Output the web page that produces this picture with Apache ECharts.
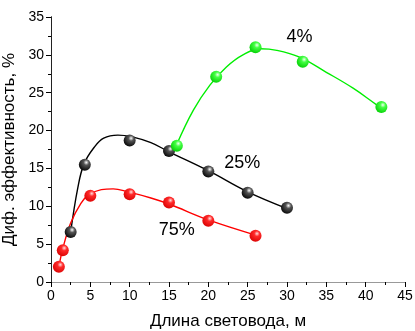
<!DOCTYPE html>
<html>
<head>
<meta charset="utf-8">
<script src="https://cdn.jsdelivr.net/npm/echarts@6/dist/echarts.min.js"></script>
<style>
  html, body { margin: 0; padding: 0; background: #fff; }
  #chart { width: 415px; height: 331px; }
</style>
</head>
<body>
<div id="chart"></div>
<script>
// Measured points, length of light guide (m) vs differential efficiency (%)
const pts4X  = [16, 21, 26, 32, 42];
const pts4Y  = [18.0, 27.1, 31.0, 29.1, 23.1];
const pts25X = [2.5, 4.3, 10, 15, 20, 25, 30];
const pts25Y = [6.6, 15.5, 18.7, 17.3, 14.6, 11.8, 9.8];
const pts75X = [1.0, 1.5, 5, 10, 15, 20, 26];
const pts75Y = [2.0, 4.2, 11.4, 11.6, 10.5, 8.1, 6.1];

// Fitted trend curves
const fit4X  = [16, 18.1, 20.2, 22.3, 24.4, 26.6, 28.7, 31.6, 35.0, 38.4, 41.4, 42];
const fit4Y  = [18.2, 22.7, 26.0, 28.4, 30.0, 30.8, 30.6, 29.7, 27.7, 25.6, 23.4, 23.0];
const fit25X = [2.5, 3.4, 4.2, 5.5, 6.7, 8.5, 10.2, 12.7, 15.0, 20, 25, 30];
const fit25Y = [6.6, 12.4, 15.6, 17.8, 19.0, 19.4, 19.2, 18.4, 17.2, 14.7, 11.9, 9.7];
const fit75X = [1.0, 1.5, 2.5, 3.8, 4.8, 6.4, 7.9, 9.8, 12.7, 15.0, 20, 26];
const fit75Y = [2.0, 4.4, 7.8, 10.4, 11.5, 12.2, 12.3, 11.9, 11.1, 10.3, 8.2, 6.2];

// Curve labels
const labelText = ['4%', '25%', '75%'];
const labelX = [31.6, 24.3, 16.0];
const labelY = [32.4, 15.7, 6.9];

const xTitle = 'Длина световода, м';
const yTitle = 'Диф. эффективность, %';

const font = 'Arial, "Liberation Sans", sans-serif';

function pairs(xs, ys) { return xs.map((x, i) => [x, ys[i]]); }

function ball(c0, c1, c2) {
  return {
    type: 'radial', x: 0.62, y: 0.32, r: 0.75,
    colorStops: [
      { offset: 0, color: c0 },
      { offset: 0.3, color: c1 },
      { offset: 1, color: c2 }
    ]
  };
}

function fitLine(xs, ys, color) {
  return {
    type: 'line', data: pairs(xs, ys), smooth: 0.4, symbol: 'none',
    lineStyle: { color: color, width: 1.4 }, z: 2, silent: true
  };
}
function dots(xs, ys, fill, z) {
  return {
    type: 'scatter', data: pairs(xs, ys), symbolSize: 12,
    itemStyle: { color: fill, opacity: 1 }, z: z, silent: true
  };
}

const axisCommon = {
  type: 'value',
  axisLine: { show: true, lineStyle: { color: '#000', width: 1 } },
  axisTick: { show: true, inside: false, length: 5, lineStyle: { color: '#000' } },
  minorTick: { show: true, splitNumber: 2, length: 3, lineStyle: { color: '#000' } },
  splitLine: { show: false },
  axisLabel: { color: '#000', fontSize: 14, fontFamily: font },
  nameTextStyle: { color: '#000', fontSize: 17, fontFamily: font }
};

const chart = echarts.init(document.getElementById('chart'), null, { renderer: 'canvas' });
chart.setOption({
  animation: false,
  backgroundColor: '#fff',
  grid: { left: 51, top: 17, width: 354, height: 265, containLabel: false, outerBoundsMode: 'none' },
  xAxis: [
    Object.assign({}, axisCommon, {
      min: 0, max: 45, interval: 5, position: 'bottom',
      name: xTitle, nameLocation: 'middle', nameGap: 31,
      axisLabel: Object.assign({}, axisCommon.axisLabel, { margin: 7 })
    }),
    { type: 'value', min: 0, max: 45, position: 'top', axisLine: { show: true, lineStyle: { color: '#999' } },
      axisTick: { show: false }, axisLabel: { show: false }, splitLine: { show: false } }
  ],
  yAxis: [
    Object.assign({}, axisCommon, {
      min: 0, max: 35, interval: 5, position: 'left',
      name: yTitle, nameLocation: 'middle', nameGap: 25, nameRotate: 90,
      axisLabel: Object.assign({}, axisCommon.axisLabel, { margin: 7 })
    }),
    { type: 'value', min: 0, max: 35, position: 'right', axisLine: { show: true, lineStyle: { color: '#222' } },
      axisTick: { show: false }, axisLabel: { show: false }, splitLine: { show: false } }
  ],
  series: [
    fitLine(fit25X, fit25Y, '#000'),
    fitLine(fit75X, fit75Y, '#ff0000'),
    fitLine(fit4X, fit4Y, '#00ee00'),
    dots(pts25X, pts25Y, ball('#ffffff', '#555555', '#000000'), 5),
    dots(pts75X, pts75Y, ball('#ffe0e0', '#ff2a2a', '#d80000'), 5),
    dots(pts4X, pts4Y, ball('#f0fff0', '#44ff44', '#00cc00'), 6),
    {
      type: 'scatter', symbolSize: 0, z: 7, silent: true,
      itemStyle: { opacity: 1 },
      data: labelText.map((t, i) => ({ value: [labelX[i], labelY[i]], name: t })),
      label: {
        show: true, position: 'inside', formatter: p => p.name,
        color: '#000', fontSize: 18, fontFamily: font, textBorderWidth: 0
      }
    }
  ]
});
</script>
</body>
</html>
